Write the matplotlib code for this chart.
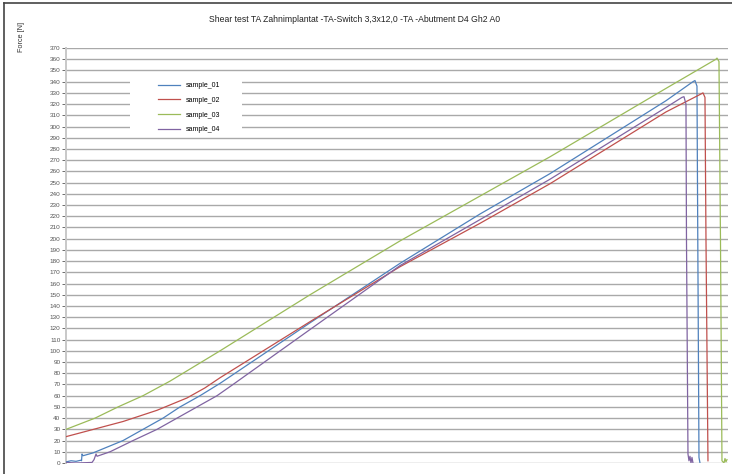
import matplotlib
matplotlib.use('Agg')
import matplotlib.pyplot as plt
from matplotlib.lines import Line2D
from matplotlib.patches import Rectangle

plt.rcParams['font.family'] = ['Liberation Sans', 'DejaVu Sans']

# Weg (ohne Achsbeschriftung im Original), Kraft in N
x_s01 = [0, 0.05, 0.10, 0.15, 0.155, 0.16, 0.17, 0.27, 0.57, 0.77, 0.97, 1.14, 1.34, 1.54,
         2.44, 3.34, 4.14, 4.84, 6.00, 6.27, 6.29, 6.31, 6.315, 6.33, 6.34]
f_s01 = [1, 2, 1.5, 2.5, 2, 8, 6.5, 9, 20, 30, 40, 50, 60, 71,
         125, 178, 222, 258, 323, 340, 341, 336, 250, 5, 0]

x_s02 = [0, 0.57, 0.91, 1.21, 1.39, 1.54, 2.44, 3.34, 4.14, 4.84, 6.00, 6.35, 6.37, 6.39, 6.40, 6.42]
f_s02 = [23.5, 37, 47, 58, 67, 76, 126, 175, 213.7, 249, 313, 329, 330, 326, 200, 2]

x_s03 = [0, 0.29, 0.52, 0.77, 1.04, 1.54, 2.44, 3.34, 4.14, 4.84, 6.00, 6.50, 6.51, 6.53, 6.545,
         6.56, 6.58, 6.59, 6.60, 6.61]
f_s03 = [30, 40, 50, 60, 73, 100, 150, 198, 238, 273, 334, 360, 361, 358, 200,
         2, 0, 4, 1, 3]

x_s04 = [0, 0.10, 0.20, 0.26, 0.28, 0.30, 0.31, 0.44, 0.67, 0.91, 1.11, 1.31, 1.51, 1.67,
         2.44, 3.34, 4.14, 4.84, 6.00, 6.16, 6.18, 6.20, 6.205, 6.22, 6.23, 6.24, 6.25, 6.26, 6.27]
f_s04 = [0.5, 0, 0.3, 0.5, 3, 8, 6, 10, 20, 30, 40, 50, 60, 70,
         119, 176, 217, 253, 317, 326, 326.6, 320, 200, 8, 2, 6, 0, 5, 0]

y_ticks = list(range(0, 380, 10))

fig = plt.figure(figsize=(7.32, 4.74), dpi=100)
ax = fig.add_axes([0.0902, 0.0232, 0.9043, 0.8755])

for y in y_ticks:
    ax.axhline(y, color='#a9a9a9', lw=1.0, zorder=1)

# weisser Hintergrund der Legende (unterbricht die Gitterlinien)
ax.add_patch(Rectangle((0.0967, 0.795), 0.169, 0.133, transform=ax.transAxes,
                       facecolor='white', edgecolor='none', zorder=2))

ax.plot(x_s01, f_s01, color='#4f81bd', lw=0.9, label='sample_01', zorder=3)
ax.plot(x_s02, f_s02, color='#c0504d', lw=0.9, label='sample_02', zorder=3)
ax.plot(x_s03, f_s03, color='#9bbb59', lw=0.9, label='sample_03', zorder=3)
ax.plot(x_s04, f_s04, color='#8064a2', lw=0.9, label='sample_04', zorder=3)

ax.set_xlim(0, 6.62)
ax.set_ylim(0, 370)
ax.set_yticks(y_ticks)
ax.set_xticks([])
ax.tick_params(axis='y', labelsize=4.6, colors='#555555', length=3, width=0.6, pad=1)
for s in ['top', 'right', 'bottom']:
    ax.spines[s].set_visible(False)
ax.spines['left'].set_color('#c8c8c8')
ax.spines['left'].set_linewidth(1.4)

ax.legend(loc='upper left', bbox_to_anchor=(0.139, 0.918), fontsize=5, frameon=False,
          handlelength=3.2, handletextpad=0.86, labelspacing=1.12, borderpad=0, borderaxespad=0)

fig.text(0.484, 0.958, 'Shear test TA Zahnimplantat -TA-Switch 3,3x12,0 -TA -Abutment D4 Gh2 A0',
         ha='center', va='center', fontsize=6.2, color='#222222')
fig.text(0.029, 0.921, 'Force [N]', rotation=90, ha='center', va='center', fontsize=5.2, color='#333333')

fig.add_artist(Line2D([0.0055, 1.0], [0.9935, 0.9935], color='#444444', lw=1.2))
fig.add_artist(Line2D([0.0055, 0.0055], [0.0, 0.9935], color='#444444', lw=1.2))

fig.savefig('out.png', dpi=100)
